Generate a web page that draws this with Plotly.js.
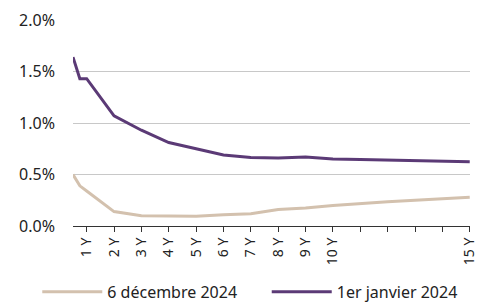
<!DOCTYPE html>
<html>
<head>
<meta charset="utf-8">
<script src="https://cdn.plot.ly/plotly-3.0.1.min.js"></script>
<style>html,body{margin:0;padding:0;background:#fff;}#chart{width:477px;height:303px;}</style>
</head>
<body>
<div id="chart"></div>
<script>
const maturities = [0.5, 0.75, 1, 2, 3, 4, 5, 6, 7, 8, 9, 10, 11, 12, 13, 14, 15];
const dec2024 = [0.50, 0.39, 0.34, 0.14, 0.10, 0.095, 0.095, 0.11, 0.12, 0.16, 0.175, 0.20, 0.22, 0.235, 0.25, 0.265, 0.28];
const jan2024 = [1.64, 1.43, 1.43, 1.07, 0.93, 0.81, 0.75, 0.69, 0.665, 0.66, 0.67, 0.65, 0.645, 0.64, 0.635, 0.628, 0.625];
const tickVals = [1, 2, 3, 4, 5, 6, 7, 8, 9, 10, 11, 12, 13, 14, 15];
const tickText = ["1 Y", "2 Y", "3 Y", "4 Y", "5 Y", "6 Y", "7 Y", "8 Y", "9 Y", "10 Y", "", "", "", "", "15 Y"];
const seriesNames = ["6 décembre 2024", "1er janvier 2024"];

const traces = [
  {x: maturities, y: dec2024, name: seriesNames[0], mode: "lines", legend: "legend",
   line: {color: "#d3c1ae", width: 3}},
  {x: maturities, y: jan2024, name: seriesNames[1], mode: "lines", legend: "legend2",
   line: {color: "#5b3a76", width: 3}}
];

const legendBase = {orientation: "h", xanchor: "left", y: -0.32, yanchor: "middle",
  font: {size: 16, color: "#222"}, itemwidth: 60, bgcolor: "rgba(0,0,0,0)"};

const layout = {
  width: 477, height: 303,
  margin: {l: 73, r: 7, t: 20, b: 77, autoexpand: false},
  paper_bgcolor: "#fff", plot_bgcolor: "#fff",
  font: {family: "Noto Sans, Open Sans, sans-serif", size: 15, color: "#222"},
  showlegend: true,
  legend: Object.assign({x: -0.09}, legendBase),
  legend2: Object.assign({x: 0.488}, legendBase),
  xaxis: {range: [0.5, 15.01], tickvals: tickVals, ticktext: tickText, tickangle: -90,
          showgrid: false, zeroline: false, showline: true, linecolor: "#333", linewidth: 1,
          ticks: "outside", ticklen: 5, tickcolor: "#333", tickfont: {size: 14},
          ticklabeloverflow: "allow"},
  yaxis: {range: [0, 2], dtick: 0.5, tickformat: ".1f", ticksuffix: "%",
          showgrid: true, gridcolor: "#c8c8c8", gridwidth: 1, zeroline: false,
          showline: false, ticks: "", ticklabelstandoff: 17, tickfont: {size: 16}}
};

Plotly.newPlot("chart", traces, layout, {staticPlot: true, displayModeBar: false});
</script>
</body>
</html>
